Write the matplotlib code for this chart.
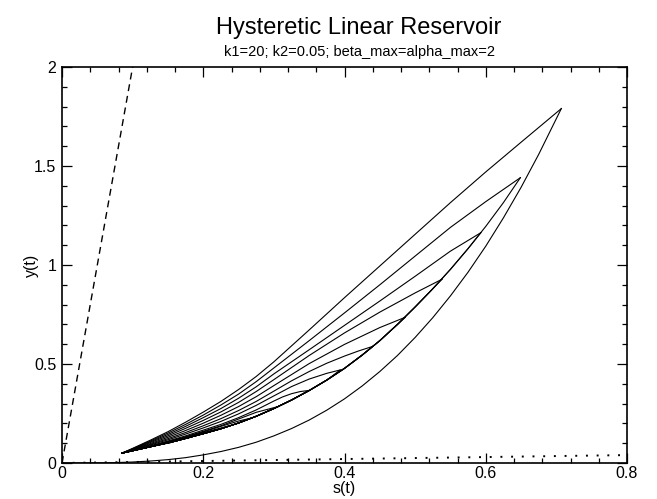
import matplotlib
matplotlib.use("Agg")
import matplotlib.pyplot as plt
from matplotlib.ticker import AutoMinorLocator

plt.rcParams['font.family'] = ['Liberation Sans', 'DejaVu Sans']

# reservoir parameters (shown in the subtitle)
k1 = 20
k2 = 0.05

# first wetting curve, starting from an empty store
lower_s = [0.0, 0.025, 0.05, 0.075, 0.1, 0.125, 0.15, 0.175, 0.2, 0.225, 0.25, 0.275, 0.3,
           0.325, 0.35, 0.375, 0.4, 0.425, 0.45, 0.475, 0.5, 0.525, 0.55, 0.575, 0.6,
           0.625, 0.65, 0.675, 0.707]
lower_y = [0.0, 0.0001, 0.0006, 0.002, 0.005, 0.0099, 0.017, 0.027, 0.041, 0.058, 0.079, 0.105, 0.137,
           0.174, 0.217, 0.267, 0.324, 0.389, 0.462, 0.543, 0.634, 0.734, 0.844, 0.964, 1.095,
           1.238, 1.392, 1.559, 1.79]

# wetting curve followed from the minimum state on every later cycle
rise_s = [0.085, 0.1, 0.12, 0.14, 0.16, 0.18, 0.2, 0.225, 0.25, 0.275, 0.3, 0.325, 0.35,
          0.375, 0.4, 0.425, 0.45, 0.475, 0.5, 0.525, 0.55, 0.575, 0.6, 0.625, 0.649]
rise_y = [0.05, 0.062, 0.078, 0.094, 0.11, 0.129, 0.148, 0.173, 0.202, 0.236, 0.275, 0.318, 0.366,
          0.419, 0.478, 0.545, 0.618, 0.70, 0.788, 0.88, 0.978, 1.083, 1.195, 1.315, 1.441]

# drying branches, each from its peak back to the minimum state
fall_s = [
    [0.707, 0.65, 0.6, 0.55, 0.5, 0.45, 0.4, 0.35, 0.3, 0.275, 0.25, 0.225, 0.2, 0.175, 0.15, 0.125, 0.1, 0.085],
    [0.649, 0.6, 0.55, 0.5, 0.45, 0.4, 0.35, 0.3, 0.275, 0.25, 0.225, 0.2, 0.175, 0.15, 0.125, 0.1, 0.085],
    [0.593, 0.55, 0.5, 0.45, 0.4, 0.35, 0.3, 0.275, 0.25, 0.225, 0.2, 0.175, 0.15, 0.125, 0.1, 0.085],
    [0.538, 0.5, 0.45, 0.4, 0.35, 0.3, 0.275, 0.25, 0.225, 0.2, 0.175, 0.15, 0.125, 0.1, 0.085],
    [0.486, 0.45, 0.4, 0.35, 0.3, 0.275, 0.25, 0.225, 0.2, 0.175, 0.15, 0.125, 0.1, 0.085],
    [0.44, 0.42, 0.4, 0.375, 0.35, 0.325, 0.3, 0.275, 0.25, 0.225, 0.2, 0.175, 0.15, 0.125, 0.1, 0.085],
    [0.394, 0.375, 0.35, 0.325, 0.3, 0.275, 0.25, 0.225, 0.2, 0.175, 0.15, 0.125, 0.1, 0.085],
    [0.349, 0.3375, 0.325, 0.3125, 0.3, 0.275, 0.25, 0.225, 0.2, 0.175, 0.15, 0.125, 0.1, 0.085],
    [0.306, 0.275, 0.25, 0.225, 0.2, 0.175, 0.15, 0.125, 0.1, 0.085],
    [0.269, 0.25, 0.225, 0.2, 0.175, 0.15, 0.125, 0.1, 0.085],
    [0.235, 0.2, 0.175, 0.15, 0.125, 0.1, 0.085],
    [0.205, 0.175, 0.15, 0.125, 0.085],
    [0.18, 0.15, 0.125, 0.085],
    [0.155, 0.125, 0.085],
]
fall_y = [
    [1.79, 1.62, 1.47, 1.315, 1.155, 0.995, 0.835, 0.672, 0.511, 0.437, 0.371, 0.311, 0.257, 0.206, 0.158, 0.115, 0.074, 0.05],
    [1.441, 1.32, 1.19, 1.045, 0.9, 0.758, 0.618, 0.48, 0.411, 0.348, 0.293, 0.242, 0.195, 0.151, 0.111, 0.072, 0.05],
    [1.163, 1.07, 0.943, 0.818, 0.695, 0.572, 0.45, 0.385, 0.327, 0.275, 0.229, 0.185, 0.144, 0.107, 0.071, 0.05],
    [0.928, 0.859, 0.762, 0.657, 0.543, 0.421, 0.361, 0.306, 0.258, 0.215, 0.175, 0.137, 0.103, 0.069, 0.05],
    [0.736, 0.684, 0.599, 0.502, 0.391, 0.335, 0.285, 0.241, 0.201, 0.164, 0.13, 0.098, 0.068, 0.05],
    [0.589, 0.566, 0.540, 0.504, 0.462, 0.415, 0.363, 0.311, 0.265, 0.224, 0.188, 0.154, 0.123, 0.094, 0.066, 0.05],
    [0.47, 0.453, 0.424, 0.386, 0.339, 0.291, 0.248, 0.21, 0.177, 0.146, 0.117, 0.091, 0.065, 0.05],
    [0.366, 0.361, 0.35, 0.334, 0.313, 0.268, 0.229, 0.195, 0.166, 0.137, 0.111, 0.087, 0.064, 0.05],
    [0.285, 0.256, 0.222, 0.188, 0.16, 0.133, 0.108, 0.085, 0.063, 0.05],
    [0.228, 0.212, 0.185, 0.157, 0.13, 0.106, 0.084, 0.063, 0.05],
    [0.186, 0.154, 0.128, 0.105, 0.083, 0.062, 0.05],
    [0.153, 0.127, 0.104, 0.083, 0.05],
    [0.128, 0.104, 0.082, 0.05],
    [0.104, 0.082, 0.05],
]

x_ticks = [0, 0.2, 0.4, 0.6, 0.8]
x_ticklabels = ['0', '0.2', '0.4', '0.6', '0.8']
y_ticks = [0, 0.5, 1, 1.5, 2]
y_ticklabels = ['0', '0.5', '1', '1.5', '2']

fig = plt.figure(figsize=(6.57, 4.99), dpi=100)
ax = fig.add_axes([62 / 657, 36 / 499, 565 / 657, 396 / 499])

lw = 0.8
for i in range(len(fall_s)):
    ps, py = fall_s[i][0], fall_y[i][0]
    # wetting part of the cycle, up to its peak
    if i == 0:
        ws, wy = lower_s, lower_y
    else:
        ws = [s for s in rise_s if s < ps] + [ps]
        wy = [y for s, y in zip(rise_s, rise_y) if s < ps] + [py]
    ax.plot(ws, wy, color='black', lw=lw)
    # drying part back to the minimum
    ax.plot(fall_s[i], fall_y[i], color='black', lw=lw)

# linear reservoir limits y = k*s
lin_s = [0.0, 0.8]
ax.plot(lin_s, [k1 * s for s in lin_s], color='black', lw=1.0, ls=(0, (5, 3.5)))
ax.plot(lin_s, [k2 * s for s in lin_s], color='black', lw=1.4, ls=(0, (1, 4.5)))

ax.set_xlim(0, 0.8)
ax.set_ylim(0, 2)
ax.set_xticks(x_ticks)
ax.set_xticklabels(x_ticklabels)
ax.set_yticks(y_ticks)
ax.set_yticklabels(y_ticklabels)
ax.xaxis.set_minor_locator(AutoMinorLocator(5))
ax.yaxis.set_minor_locator(AutoMinorLocator(5))
ax.tick_params(which='both', direction='in', top=True, right=True, width=0.9,
               labelsize=11.5, color='black')
ax.tick_params(which='major', length=7.5)
ax.tick_params(which='minor', length=3.8)
ax.tick_params(axis='x', pad=2)
ax.tick_params(axis='y', pad=4)
for sp in ax.spines.values():
    sp.set_linewidth(1.2)

ax.set_xlabel('s(t)', fontsize=11.5, labelpad=0)
ax.set_ylabel('y(t)', fontsize=11.5)
ax.yaxis.set_label_coords(-0.041, 0.5)

fig.text(359 / 657, 1 - 28 / 499, 'Hysteretic Linear Reservoir', fontsize=17,
         ha='center', va='center')
fig.text(359 / 657, 1 - 52 / 499, 'k1=20; k2=0.05; beta_max=alpha_max=2', fontsize=10.5,
         ha='center', va='center')

fig.savefig('out.png', dpi=100)
